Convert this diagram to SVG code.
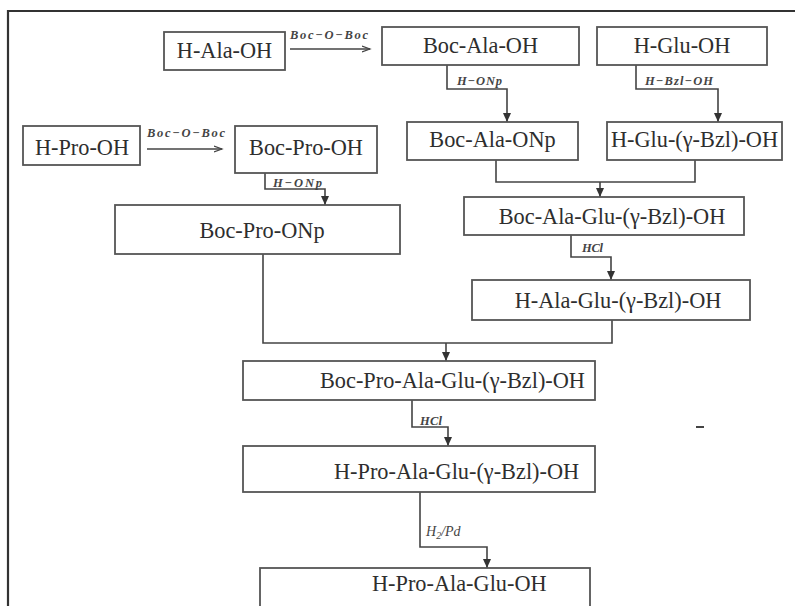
<svg xmlns="http://www.w3.org/2000/svg" width="795" height="606" viewBox="0 0 795 606">
<style>
.box{fill:#fff;stroke:#555;stroke-width:1.8}
.t{font-size:22.3px;fill:#2e2e2e}
.m{text-anchor:middle}
.lbl{font-size:12.5px;font-style:italic;font-weight:bold;fill:#444}
.c{fill:none;stroke:#444;stroke-width:1.6}
</style>
<defs>
<marker id="ah" markerUnits="userSpaceOnUse" markerWidth="10" markerHeight="10" refX="9" refY="5" orient="auto">
<path d="M0,1 L9,5 L0,9 Z" fill="#333"/>
</marker>
<marker id="oa" markerUnits="userSpaceOnUse" markerWidth="10" markerHeight="8" refX="8" refY="4" orient="auto">
<path d="M0,1 L8,4 L0,7" fill="none" stroke="#444" stroke-width="1.2"/>
</marker>
</defs>
<rect width="795" height="606" fill="#fff"/>
<path d="M8,606 V11 H795" fill="none" stroke="#333" stroke-width="2.2"/>
<rect x="696" y="426" width="8" height="2" fill="#444"/>

<g font-family="'Liberation Serif', 'DejaVu Serif', serif">
<g id="connectors">
<path class="c" d="M290,49 H370" marker-end="url(#oa)"/>
<path class="c" d="M147,149 H222" marker-end="url(#oa)"/>
<path class="c" d="M447,65 V89 H507 V122" marker-end="url(#ah)"/>
<path class="c" d="M636,65 V89 H718 V122" marker-end="url(#ah)"/>
<path class="c" d="M496,160 V182 H695 V160"/>
<path class="c" d="M600,182 V197" marker-end="url(#ah)"/>
<path class="c" d="M571,235 V257 H611 V280" marker-end="url(#ah)"/>
<path class="c" d="M265,173 V189 H325 V205" marker-end="url(#ah)"/>
<path class="c" d="M263,254 V343 H612 V320"/>
<path class="c" d="M446,343 V361" marker-end="url(#ah)"/>
<path class="c" d="M412,400 V427 H448 V446" marker-end="url(#ah)"/>
<path class="c" d="M420,492 V547 H487 V568" marker-end="url(#ah)"/>
<text class="lbl" x="290" y="39" textLength="78" lengthAdjust="spacing">Boc−O−Boc</text>
<text class="lbl" x="147" y="137" textLength="78" lengthAdjust="spacing">Boc−O−Boc</text>
<text class="lbl" x="457" y="85" textLength="45" lengthAdjust="spacing">H−ONp</text>
<text class="lbl" x="645" y="85" textLength="68" lengthAdjust="spacing">H−Bzl−OH</text>
<text class="lbl" x="273" y="187" textLength="49" lengthAdjust="spacing">H−ONp</text>
<text class="lbl" x="582" y="252" textLength="21" lengthAdjust="spacing">HCl</text>
<text class="lbl" x="420" y="425" textLength="22" lengthAdjust="spacing">HCl</text>
<text class="lbl" x="426" y="536" style="font-size:14px;font-weight:normal">H<tspan dy="3" style="font-size:10px">2</tspan><tspan dy="-3">/Pd</tspan></text>
</g>

<g id="n-h-ala-oh"><rect class="box" x="164" y="32" width="121" height="38"/><text class="t m" x="224.5" y="58">H-Ala-OH</text></g>
<g id="n-boc-ala-oh"><rect class="box" x="382" y="27" width="197" height="38"/><text class="t m" x="480.5" y="53">Boc-Ala-OH</text></g>
<g id="n-h-glu-oh"><rect class="box" x="597" y="27" width="170" height="38"/><text class="t m" x="682" y="53">H-Glu-OH</text></g>
<g id="n-h-pro-oh"><rect class="box" x="23" y="126" width="117" height="39"/><text class="t m" x="82" y="155">H-Pro-OH</text></g>
<g id="n-boc-pro-oh"><rect class="box" x="235" y="126" width="142" height="47"/><text class="t m" x="306" y="155">Boc-Pro-OH</text></g>
<g id="n-boc-ala-onp"><rect class="box" x="407" y="122" width="171" height="38"/><text class="t m" x="492.5" y="147">Boc-Ala-ONp</text></g>
<g id="n-h-glu-bzl"><rect class="box" x="607" y="122" width="175" height="38"/><text class="t m" x="694.5" y="147">H-Glu-(γ-Bzl)-OH</text></g>
<g id="n-boc-pro-onp"><rect class="box" x="115" y="205" width="285" height="49"/><text class="t m" x="262" y="238">Boc-Pro-ONp</text></g>
<g id="n-boc-ala-glu"><rect class="box" x="464" y="197" width="280" height="38"/><text class="t m" x="612" y="224">Boc-Ala-Glu-(γ-Bzl)-OH</text></g>
<g id="n-h-ala-glu"><rect class="box" x="472" y="280" width="278" height="40"/><text class="t m" x="618" y="308">H-Ala-Glu-(γ-Bzl)-OH</text></g>
<g id="n-boc-pro-ala-glu"><rect class="box" x="243" y="361" width="352" height="39"/><text class="t" x="320" y="388">Boc-Pro-Ala-Glu-(γ-Bzl)-OH</text></g>
<g id="n-h-pro-ala-glu-bzl"><rect class="box" x="243" y="446" width="352" height="46"/><text class="t" x="334" y="479">H-Pro-Ala-Glu-(γ-Bzl)-OH</text></g>
<g id="n-h-pro-ala-glu-oh"><rect class="box" x="260" y="568" width="330" height="42"/><text class="t" x="372" y="591">H-Pro-Ala-Glu-OH</text></g>
</g>
</svg>
